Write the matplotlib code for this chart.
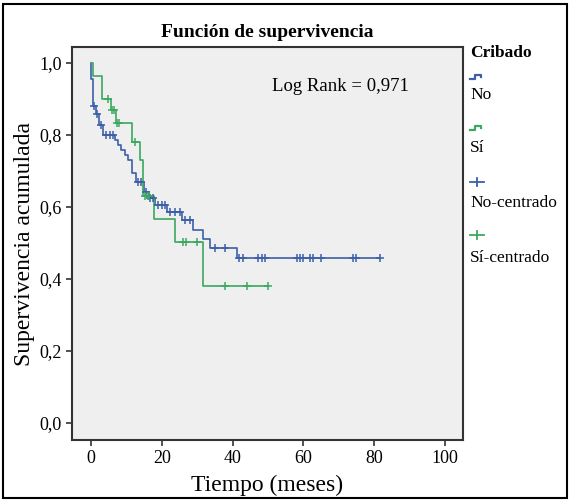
import numpy as np
import matplotlib
matplotlib.use("Agg")
import matplotlib.pyplot as plt
from matplotlib.lines import Line2D
from matplotlib.patches import Rectangle

plt.rcParams['font.family'] = ['Liberation Serif', 'DejaVu Serif']

# ---- data ----
no_t = [0, 0, 0.6, 1.4, 2.3, 3.3, 6.7, 7.7, 8.6, 9.6, 10.5, 11.5, 12.6, 15.0, 16.5,
        18.1, 21.4, 25.6, 28.9, 31.7, 33.6, 41.2]
no_s = [1.0, 0.955, 0.879, 0.858, 0.828, 0.800, 0.786, 0.772, 0.758, 0.744, 0.730, 0.695,
        0.670, 0.642, 0.625, 0.606, 0.587, 0.564, 0.536, 0.510, 0.485, 0.457]
no_cens = [0.9, 1.8, 2.9, 4.2, 5.4, 6.3, 13.2, 14.1, 15.6, 16.8, 17.5, 19.0, 20.0, 20.9,
           22.3, 23.7, 25.1, 26.5, 27.9, 35.0, 37.9, 41.8, 43.0, 47.3, 48.3, 49.2,
           58.2, 59.1, 60.0, 61.9, 62.9, 65.0, 74.2, 75.0, 81.7]

si_t = [0, 0.6, 3.0, 5.5, 7.0, 11.5, 13.8, 14.8, 17.8, 23.7, 31.7]
si_s = [1.0, 0.964, 0.899, 0.869, 0.833, 0.781, 0.731, 0.629, 0.566, 0.504, 0.381]
si_cens = [4.9, 5.8, 6.5, 7.4, 8.0, 12.5, 15.2, 16.0, 16.5, 26.1, 26.8, 29.9, 37.9, 44.0, 50.1]

x_ticks = [0, 20, 40, 60, 80, 100]
y_ticks = [0.0, 0.2, 0.4, 0.6, 0.8, 1.0]
legend_labels = ['No', 'Sí', 'No-centrado', 'Sí-centrado']

BLUE = '#3c5fa8'
GREEN = '#3aa860'

fig = plt.figure(figsize=(5.71, 5.01), dpi=100)
ax = fig.add_axes([72/571, 1-440/501, (463-72)/571, (440-47)/501])
ax.set_facecolor('#efefef')


def draw(t, s, cens, color):
    t = list(t); s = list(s)
    tend = max(max(cens), t[-1])
    tt = t + [tend]
    ss = s + [s[-1]]
    ax.step(tt, ss, where='post', color=color, lw=1.2, zorder=3)
    tarr = np.array(t); sarr = np.array(s)
    cy = [sarr[np.searchsorted(tarr, c, side='right') - 1] for c in cens]
    ax.plot(cens, cy, linestyle='none', marker='+', ms=6, mew=1.1, color=color, zorder=4)


draw(no_t, no_s, no_cens, BLUE)
draw(si_t, si_s, si_cens, GREEN)

ax.set_xlim(-5.4, 105.2)
ax.set_ylim(-0.047, 1.044)
ax.set_xticks(x_ticks)
ax.set_xticklabels([str(v) for v in x_ticks])
ax.set_yticks(y_ticks)
ax.set_yticklabels([f"{v:.1f}".replace('.', ',') for v in y_ticks])
ax.tick_params(labelsize=13, length=4, width=1.2, color='#333333')
for sp in ax.spines.values():
    sp.set_linewidth(1.5)
    sp.set_color('#333333')

ax.set_title('Función de supervivencia', fontsize=14, fontweight='bold', pad=7)
ax.set_xlabel('Tiempo (meses)', fontsize=17, labelpad=5)
ax.set_ylabel('Supervivencia acumulada', fontsize=17, labelpad=3)
ax.text(70.5, 0.933, 'Log Rank = 0,971', fontsize=13.5, ha='center', va='center')

# legend (outside, right)
def fx(px):
    return px / 571
def fy(py):
    return 1 - py / 501

fig.text(fx(470), fy(53), 'Cribado', fontsize=12.5, fontweight='bold', va='center', ha='left')
for col, y in [(BLUE, 77), (GREEN, 128)]:
    xs = [470, 475, 475, 481, 481]
    ys = [y + 1.5, y + 1.5, y - 2.5, y - 2.5, y]
    fig.add_artist(Line2D([fx(v) for v in xs], [fy(v) for v in ys], color=col, lw=1.6,
                          transform=fig.transFigure))
for col, y in [(BLUE, 182), (GREEN, 235)]:
    fig.add_artist(Line2D([fx(470), fx(484)], [fy(y), fy(y)], color=col, lw=1.3,
                          transform=fig.transFigure))
    fig.add_artist(Line2D([fx(477), fx(477)], [fy(y - 4), fy(y + 4)], color=col, lw=1.3,
                          transform=fig.transFigure))
for lab, y in zip(legend_labels, [95, 148, 203, 258]):
    fig.text(fx(470), fy(y), lab, fontsize=12.5, va='center', ha='left')

fig.add_artist(Rectangle((3/571, 3/501), 564/571, 494/501, transform=fig.transFigure,
                         fill=False, edgecolor='black', lw=1.5))

fig.savefig('out.png', dpi=100, facecolor='white')
